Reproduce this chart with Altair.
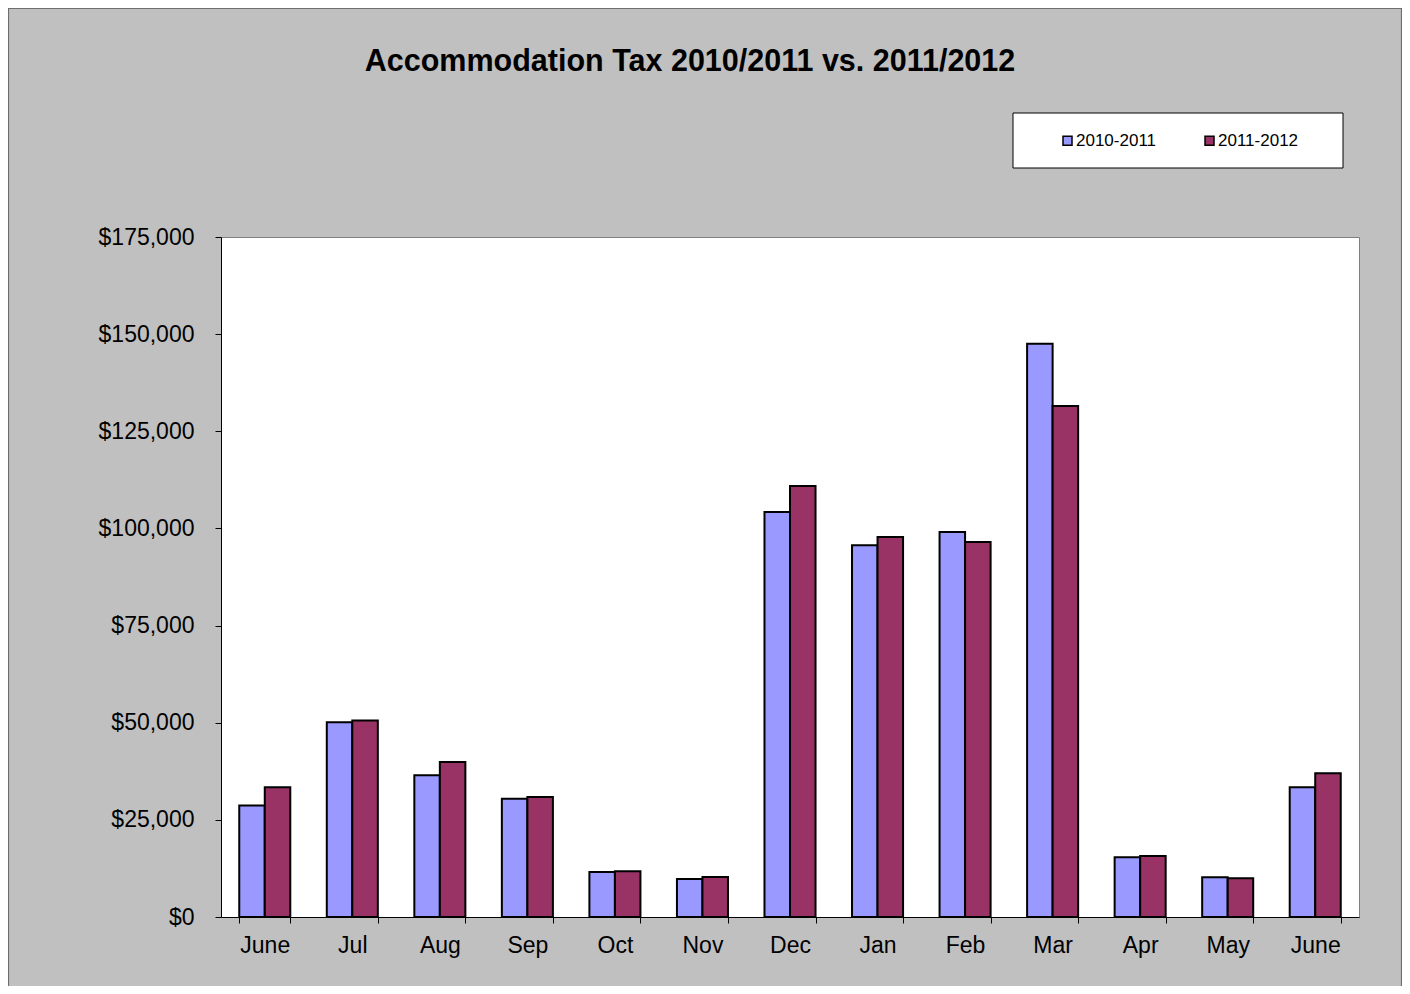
import json
import altair as alt
import pandas as pd

months = ["June", "Jul", "Aug", "Sep", "Oct", "Nov", "Dec", "Jan", "Feb", "Mar", "Apr", "May", "June"]
series_names = ["2010-2011", "2011-2012"]
vals_2010_2011 = [28700, 50100, 36500, 30400, 11600, 9800, 104200, 95700, 99100, 147500, 15400, 10200, 33400]
vals_2011_2012 = [33400, 50600, 39900, 30900, 11800, 10300, 110900, 97800, 96500, 131500, 15700, 10000, 37000]
colors = ["#9999FF", "#993366"]

rows = []
for i, m in enumerate(months):
    rows.append({"idx": i, "series": series_names[0], "value": vals_2010_2011[i]})
    rows.append({"idx": i, "series": series_names[1], "value": vals_2011_2012[i]})
df = pd.DataFrame(rows)

FONT = "Liberation Sans"
label_expr = json.dumps(months) + "[datum.value]"

bars = alt.Chart(df).mark_bar(stroke="black", strokeWidth=2).encode(
    x=alt.X("idx:O", title=None,
            scale=alt.Scale(paddingInner=0.417, paddingOuter=0.2085),
            axis=alt.Axis(labelExpr=label_expr, labelAngle=0, tickBand="extent",
                          tickSize=6, labelPadding=11, domainColor="black",
                          tickColor="black", labelFontSize=23, labelFont=FONT,
                          labelColor="black")),
    xOffset=alt.XOffset("series:N", scale=alt.Scale(domain=series_names, paddingInner=0, paddingOuter=0)),
    y=alt.Y("value:Q", title=None,
            scale=alt.Scale(domain=[0, 175000], nice=False),
            axis=alt.Axis(values=list(range(0, 175001, 25000)), format="$,.0f",
                          grid=False, tickSize=6, labelPadding=21,
                          domainColor="black", tickColor="black",
                          labelFontSize=23, labelFont=FONT, labelColor="black")),
    color=alt.Color("series:N", title=None,
                    scale=alt.Scale(domain=series_names, range=colors),
                    legend=alt.Legend(orient="none", legendX=838, legendY=-105,
                                      direction="horizontal", padding=0,
                                      columnPadding=44, symbolType="square",
                                      symbolSize=81, symbolStrokeColor="black",
                                      symbolStrokeWidth=1.5, labelFontSize=17,
                                      labelFont=FONT, labelColor="black",
                                      labelOffset=0, labelLimit=200)),
)

legend_box = alt.Chart(alt.Data(values=[{}])).mark_rect(
    fill="white", stroke="black", strokeWidth=1
).encode(x=alt.value(792), x2=alt.value(1122), y=alt.value(-124), y2=alt.value(-69))

outer_border = alt.Chart(alt.Data(values=[{}])).mark_rect(
    fill=None, stroke="#6e6e6e", strokeWidth=1.2
).encode(x=alt.value(-212.5), x2=alt.value(1180.5), y=alt.value(-228.5), y2=alt.value(800))

chart = alt.layer(outer_border, legend_box, bars).properties(
    width=1138,
    height=680,
    title=alt.TitleParams("Accommodation Tax 2010/2011 vs. 2011/2012", fontSize=30.5,
                          font=FONT, fontWeight="bold", color="black",
                          anchor="middle", dx=-100, offset=-94, baseline="alphabetic"),
    autosize=alt.AutoSizeParams(type="none"),
    padding={"left": 213, "top": 229, "right": 43, "bottom": 69},
    background="#C0C0C0",
).configure_view(stroke="#808080", strokeWidth=1, fill="white")

chart.save("out.html", embed_options={"renderer": "svg", "actions": False})
